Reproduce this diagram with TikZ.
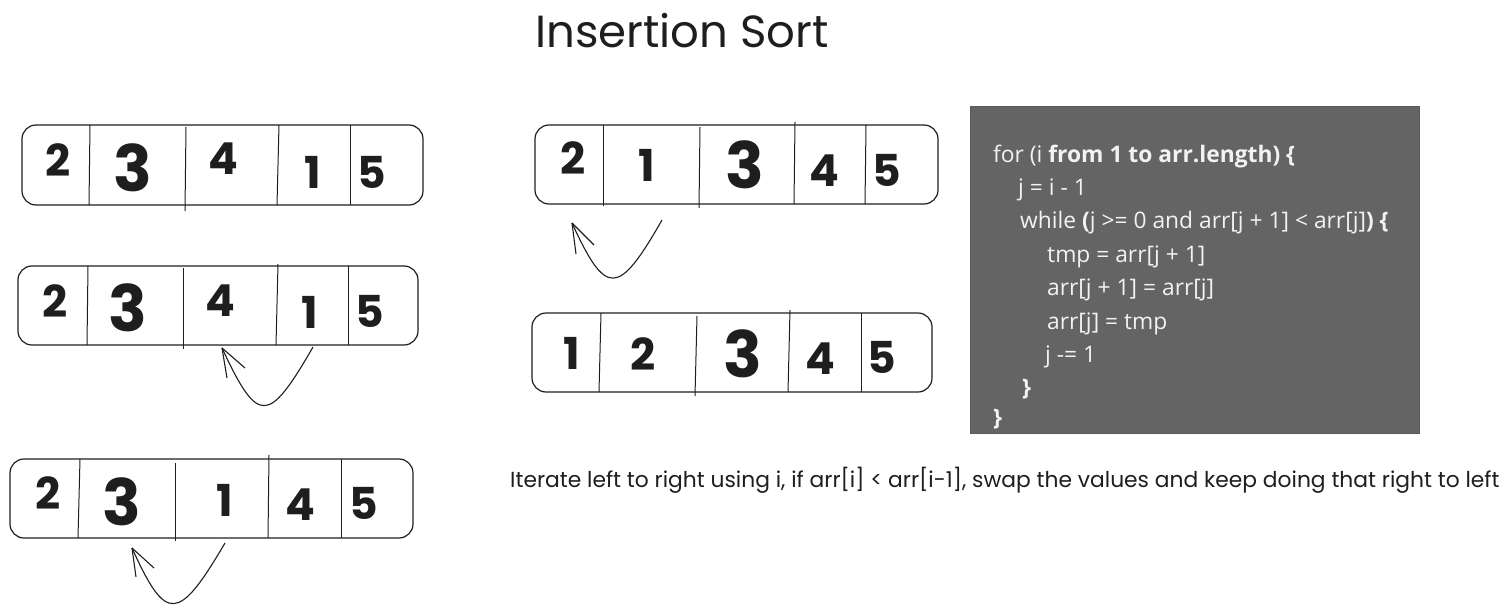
\documentclass[tikz,border=0pt]{standalone}
\usepackage{fontspec}
\newfontfamily\handfont{Poppins}
\newfontfamily\codefont{Open Sans}
\definecolor{codebg}{HTML}{646464}
\definecolor{ink}{HTML}{1E1E1E}
\begin{document}
\begin{tikzpicture}[x=1pt,y=-1pt,
  arrbox/.style={draw=ink, line width=1.2pt, rounded corners=14pt, inner sep=0pt},
  divline/.style={draw=ink, line width=1pt},
  dig/.style={font=\handfont\bfseries\fontsize{44}{44}\selectfont, text=ink, inner sep=0pt},
  bigdig/.style={font=\handfont\bfseries\fontsize{64}{64}\selectfont, text=ink, inner sep=0pt},
  swaparrow/.style={draw=ink, line width=1.1pt},
  codeline/.style={anchor=base west, inner sep=0pt, text=white!95!black, font=\codefont\fontsize{22.8}{22.8}\selectfont},
]
\useasboundingbox (0,0) rectangle (1512,615);

% title
\node[font=\handfont\fontsize{45}{45}\selectfont, text=ink, anchor=base] (title) at (682,48) {Insertion Sort};

% ---------- array 1 ----------
\node[arrbox, minimum width=401pt, minimum height=80pt] (A1) at (222.5,165) {};
\draw[divline] (90,125) -- (89,205);
\draw[divline] (186,127) -- (185,211);
\draw[divline] (279,125) -- (277,205);
\draw[divline] (350,125) -- (350,205);
\node[dig] (a1n1) at (58,160) {2};
\node[bigdig] (a1n2) at (133,168) {3};
\node[dig] (a1n3) at (223,159) {4};
\node[dig] (a1n4) at (313,172) {1};
\node[dig] (a1n5) at (372,172) {5};

% ---------- array 2 ----------
\node[arrbox, minimum width=400pt, minimum height=79pt] (A2) at (218,305.5) {};
\draw[divline] (88,266) -- (87,345);
\draw[divline] (183,268) -- (183,349);
\draw[divline] (278,264) -- (276,345);
\draw[divline] (348,266) -- (348,345);
\node[dig] (a2n1) at (55,301) {2};
\node[bigdig] (a2n2) at (128,308) {3};
\node[dig] (a2n3) at (220,301) {4};
\node[dig] (a2n4) at (310,312) {1};
\node[dig] (a2n5) at (370,311) {5};
\coordinate (s2) at (313,347);
\coordinate (t2) at (222,348);
\draw[swaparrow] (s2) .. controls (268,425) and (258,425) .. (t2);
\draw[swaparrow] (t2) -- (227,378);
\draw[swaparrow] (t2) -- (245,368);

% ---------- array 3 ----------
\node[arrbox, minimum width=403pt, minimum height=79pt] (A3) at (211.5,498.5) {};
\draw[divline] (80,459) -- (78,538);
\draw[divline] (175,463) -- (175,541);
\draw[divline] (269,455) -- (268,538);
\draw[divline] (341,459) -- (341,538);
\node[dig] (a3n1) at (48,493) {2};
\node[bigdig] (a3n2) at (122,502) {3};
\node[dig] (a3n3) at (225,500) {1};
\node[dig] (a3n4) at (300,505) {4};
\node[dig] (a3n5) at (364,503) {5};
\coordinate (s3) at (225,543);
\coordinate (t3) at (132,548);
\draw[swaparrow] (s3) .. controls (178,623) and (166,623) .. (t3);
\draw[swaparrow] (t3) -- (136,577);
\draw[swaparrow] (t3) -- (154,568);

% ---------- array 4 ----------
\node[arrbox, minimum width=403pt, minimum height=79pt] (A4) at (736.5,164.5) {};
\draw[divline] (603,125) -- (603,206);
\draw[divline] (700,127) -- (699,208);
\draw[divline] (795,122) -- (794,204);
\draw[divline] (866,125) -- (865,204);
\node[dig] (a4n1) at (573,158) {2};
\node[dig] (a4n2) at (647,165) {1};
\node[bigdig] (a4n3) at (745,165) {3};
\node[dig] (a4n4) at (824,171) {4};
\node[dig] (a4n5) at (887,170) {5};
\coordinate (s4) at (662,220);
\coordinate (t4) at (572,223);
\draw[swaparrow] (s4) .. controls (618,297) and (606,297) .. (t4);
\draw[swaparrow] (t4) -- (576,254);
\draw[swaparrow] (t4) -- (594,245);

% ---------- array 5 ----------
\node[arrbox, minimum width=400pt, minimum height=79pt] (A5) at (732,352.5) {};
\draw[divline] (601,313) -- (599,392);
\draw[divline] (697,316) -- (695,396);
\draw[divline] (790,310) -- (788,392);
\draw[divline] (861,313) -- (861,392);
\node[dig] (a5n1) at (572,353) {1};
\node[dig] (a5n2) at (643,354) {2};
\node[bigdig] (a5n3) at (743,354) {3};
\node[dig] (a5n4) at (820,359) {4};
\node[dig] (a5n5) at (882,357) {5};

% ---------- code box ----------
\node[fill=codebg, draw=codebg!90!black, minimum width=449pt, minimum height=327pt, inner sep=0pt] (code) at (1194.5,269.5) {};
\node[codeline] (c1) at (993,162) {for (i \textbf{from 1 to arr.length) \{}};
\node[codeline] (c2) at (1018,195.4) {j = i - 1};
\node[codeline] (c3) at (1020,228.8) {while \textbf{(}j >= 0 and arr[j + 1] < arr[j]\textbf{) \{}};
\node[codeline] (c4) at (1047,262.2) {tmp = arr[j + 1]};
\node[codeline] (c5) at (1047,295.6) {arr[j + 1] = arr[j]};
\node[codeline] (c6) at (1047,329) {arr[j] = tmp};
\node[codeline] (c7) at (1045,362.4) {j -= 1};
\node[codeline] (c8) at (1022,395.8) {\textbf{\}}};
\node[codeline] (c9) at (993,425) {\textbf{\}}};

% ---------- explanation ----------
\node[anchor=base west, inner sep=0pt, font=\handfont\fontsize{21.8}{21.8}\selectfont, text=ink] (expl) at (510,487) {Iterate left to right using i, if arr[i] < arr[i-1], swap the values and keep doing that right to left};
\end{tikzpicture}
\end{document}
